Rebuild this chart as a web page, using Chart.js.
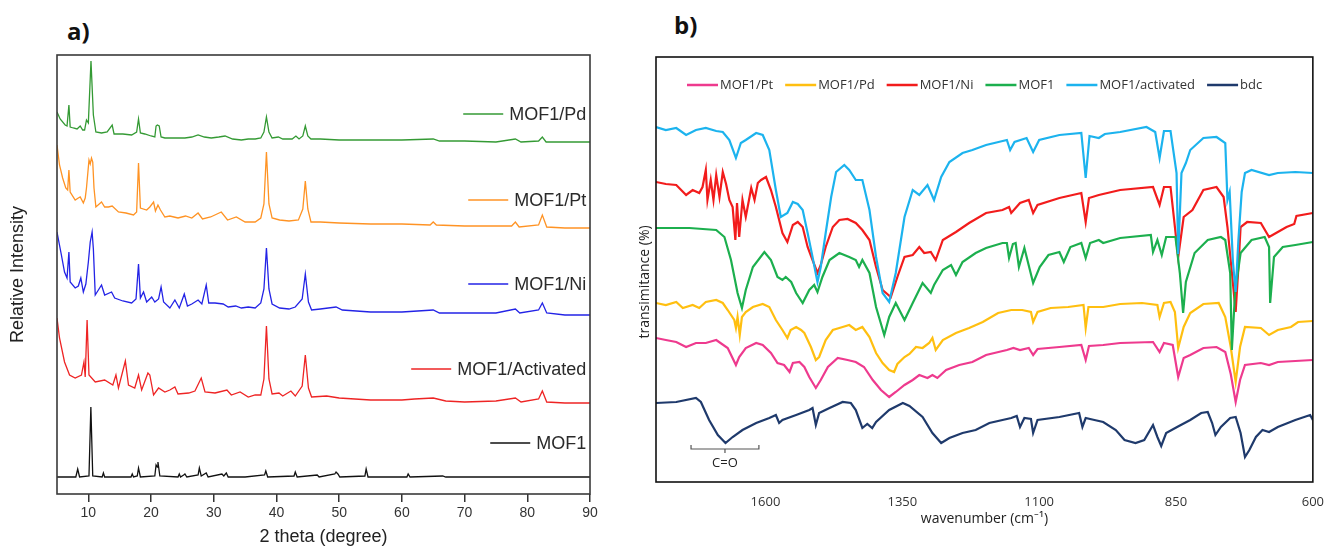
<!DOCTYPE html>
<html>
<head>
<meta charset="utf-8">
<script src="https://cdn.jsdelivr.net/npm/chart.js@4.4.1/dist/chart.umd.min.js"></script>
<style>
  body { margin: 0; background: #fff; width: 1325px; height: 548px; position: relative; overflow: hidden; }
  canvas { position: absolute; top: 0; }
  #xrd { left: 0; }
  #ftir { left: 620px; }
  .tag { position: absolute; font: bold 24px "Open Sans", sans-serif; line-height: 1; color: #111; }
</style>
</head>
<body>
<div class="tag" style="left:67px;top:19px">a)</div>
<div class="tag" style="left:674px;top:13px">b)</div>
<canvas id="xrd" width="640" height="548"></canvas>
<canvas id="ftir" width="708" height="548"></canvas>
<script>
// ---- a) XRD patterns: [2theta, intensity (offset, arbitrary)] ----
const xrdTicks = [10, 20, 30, 40, 50, 60, 70, 80, 90];
const xrdNames = ['MOF1/Pd', 'MOF1/Pt', 'MOF1/Ni', 'MOF1/Activated', 'MOF1'];
const xrdColors = ['#349a34', '#ff9324', '#2323e6', '#ee2424', '#111111'];

const xrdPd = [[5,382],[5.5,375],[6.3,369],[6.6,368],[6.9,389],[7.1,367],[7.6,366],[8.2,365],[8.7,368],[9.1,364],[9.4,364],[9.7,374],[10.0,371],[10.42,433],[10.8,379],[11.2,362],[12.1,361],[13.0,362],[13.8,369],[14.1,360],[15.5,360],[16.9,359],[17.7,362],[18.0,375],[18.3,361],[19.0,360],[20.0,358],[20.6,357],[20.8,368],[21.0,369],[21.3,368],[21.6,357],[22.2,356],[24,356],[25.4,356],[26.5,357],[27.5,359],[28.5,357],[29.6,356],[30.8,357],[31.8,358],[33,355],[34.4,354],[35.5,355],[36.6,355],[37.5,356],[38.0,362],[38.4,377],[38.8,362],[39.3,356],[40.3,357],[41,355],[42.5,355],[43.1,358],[43.6,355],[44.2,358],[44.6,368],[45.0,358],[45.5,355],[47,355],[50,354],[55,354],[60,354],[65,355],[66,353],[70,353],[75,352],[78.1,355],[79,352],[81.8,353],[82.4,357],[83.0,352],[86,352],[90,352]];
const xrdPt = [[5,349],[5.4,329],[5.9,316],[6.4,306],[6.7,304],[6.9,324],[7.1,302],[7.9,294],[8.4,296],[8.7,297],[9.2,291],[9.5,296],[9.7,306],[10.1,334],[10.3,330],[10.5,336],[10.7,332],[10.9,306],[11.2,287],[12.1,292],[12.6,287],[13.2,287],[13.8,288],[14.8,282],[16,281],[17.2,279],[17.7,282],[18.0,331],[18.3,286],[19.3,284],[19.8,287],[20.4,292],[20.7,283],[21.1,289],[21.5,284],[22.2,277],[23,278],[24.3,276],[25.5,278],[26.5,276],[27.5,281],[28.2,275],[29.5,277],[31.2,282],[32.2,274],[33.6,277],[35,272],[36.6,272],[37.5,276],[38.0,290],[38.4,342],[38.8,290],[39.3,276],[40.5,274],[42,273],[43.5,274],[44.2,285],[44.6,313],[45.0,285],[45.5,272],[47,272],[50,271],[55,270],[60,270],[64.5,269],[65,272],[65.5,269],[70,268],[75,268],[77.5,268],[78.1,272],[78.7,267],[81.8,269],[82.4,279],[83.1,267],[86,266],[90,266]];
const xrdNi = [[5,262],[5.7,239],[6.2,222],[6.6,216],[6.9,242],[7.1,212],[7.9,206],[8.4,208],[8.8,216],[9.2,202],[9.6,210],[10.0,232],[10.3,252],[10.6,262],[10.8,245],[11.1,199],[12.1,209],[12.6,199],[13.7,202],[14.2,196],[15.5,193],[16.9,191],[17.6,195],[18.0,230],[18.3,196],[18.8,202],[19.3,192],[20.1,197],[20.6,192],[21.2,195],[21.6,207],[22.0,192],[23.0,186],[23.8,194],[24.5,186],[25.3,200],[25.8,188],[26.5,190],[27.5,194],[28.1,190],[28.8,209],[29.2,191],[30.2,191],[31.5,190],[32.3,187],[33.5,188],[34.4,186],[35.5,187],[36.6,186],[37.5,191],[38.0,205],[38.4,246],[38.8,205],[39.3,190],[40.5,186],[42,185],[43,187],[44.1,195],[44.6,220],[45.1,192],[45.6,184],[47,185],[49.5,187],[50.5,184],[55,182],[60,182],[65,184],[66,181],[70,181],[75,181],[78.1,185],[78.8,181],[81.8,184],[82.4,191],[83.1,181],[86,179],[90,179]];
const xrdAct = [[5,176],[5.4,156],[6.2,132],[7.0,119],[7.9,116],[8.9,119],[9.3,132],[9.5,117],[9.8,174],[10.1,119],[11.1,112],[12.6,114],[13.9,109],[14.4,119],[14.8,106],[15.9,133],[16.4,109],[17.4,106],[18.0,119],[18.5,104],[19.5,121],[19.8,119],[20.4,99],[21.2,106],[22.2,102],[23.0,104],[23.8,107],[24.3,100],[26.0,101],[27.0,103],[28.0,116],[28.6,102],[30.2,101],[32.1,104],[32.8,99],[34.2,102],[35.5,97],[36.6,99],[37.5,99],[38.0,115],[38.4,168],[38.8,115],[39.3,100],[40.4,101],[41,98],[42.3,103],[43,98],[44.1,108],[44.6,139],[45.1,106],[45.6,97],[48,98],[50,96],[55,94],[60,94],[62,95],[65,96],[67,93],[70,92],[75,93],[78.1,96],[79,92],[81.8,95],[82.4,103],[83.1,92],[86,91],[90,91]];
const xrdMof = [[5,17],[8.0,17],[8.3,25],[8.6,17],[10.1,18],[10.4,87],[10.7,18],[12.2,17],[12.4,21],[12.6,17],[16.8,17],[17.0,20],[17.2,17],[17.8,18],[18.0,26],[18.3,17],[20.6,18],[20.8,29],[21.0,27],[21.1,32],[21.4,18],[24.3,17],[24.5,20],[24.7,17],[25.2,19],[25.4,20],[25.7,17],[27.5,19],[27.7,26],[28.0,18],[28.8,21],[29.1,17],[31.3,20],[31.6,18],[32.0,21],[32.3,17],[35,17],[38.1,19],[38.3,23],[38.6,17],[42.8,18],[43.0,22],[43.3,17],[46.5,19],[46.8,17],[49.3,20],[49.5,22],[49.8,20],[50.1,17],[54.1,18],[54.3,25],[54.6,17],[60.8,17],[61.0,20],[61.3,17],[66.5,18],[67,17],[90,17]];
const xrdSeries = [xrdPd, xrdPt, xrdNi, xrdAct, xrdMof];
// where each trace's name sits (intensity units), right edge at 2theta = 89.4
const xrdTagY = [380, 294, 210, 125, 51];

// ---- b) FTIR spectra: [wavenumber, transmittance (offset, arbitrary)] ----
const irTicks = [1600, 1350, 1100, 850, 600];
const irNames = ['MOF1/Pt', 'MOF1/Pd', 'MOF1/Ni', 'MOF1', 'MOF1/activated', 'bdc'];
const irColors = ['#ee3a8e', '#ffbf10', '#f21c1c', '#1caf4e', '#1cb3ee', '#1f3a6c'];

const irPt = [[1800,144],[1782,142],[1763,140],[1745,135],[1727,139],[1709,139],[1690,142],[1669,134],[1654,117],[1648,125],[1636,134],[1617,139],[1605,137],[1590,129],[1578,119],[1566,117],[1556,110],[1550,119],[1538,120],[1529,115],[1520,105],[1508,94],[1499,102],[1486,115],[1468,124],[1450,122],[1435,120],[1420,115],[1404,102],[1389,92],[1374,85],[1362,90],[1346,97],[1331,102],[1319,107],[1304,104],[1295,107],[1286,104],[1270,112],[1246,117],[1222,120],[1197,127],[1159,132],[1147,134],[1135,132],[1119,134],[1111,127],[1103,133],[1063,135],[1023,137],[1015,122],[1009,136],[983,137],[952,139],[892,140],[880,130],[872,139],[856,137],[846,105],[836,124],[824,127],[800,134],[776,135],[760,130],[750,108],[741,80],[733,102],[724,117],[695,119],[680,117],[664,120],[632,121],[600,122]];
const irPd = [[1800,179],[1782,177],[1763,180],[1751,174],[1733,177],[1721,174],[1709,180],[1690,182],[1678,179],[1669,172],[1657,162],[1654,154],[1651,165],[1647,147],[1643,165],[1636,170],[1623,175],[1605,178],[1593,175],[1581,162],[1569,152],[1560,144],[1554,152],[1544,155],[1535,152],[1529,149],[1517,135],[1508,122],[1502,125],[1490,142],[1477,152],[1459,155],[1447,157],[1435,152],[1423,155],[1410,145],[1398,129],[1386,119],[1374,112],[1365,110],[1359,118],[1346,125],[1337,128],[1325,135],[1313,134],[1301,139],[1295,144],[1289,132],[1276,142],[1252,149],[1228,154],[1203,160],[1175,169],[1151,172],[1131,172],[1115,170],[1111,160],[1103,170],[1079,174],[1047,175],[1019,177],[1015,154],[1010,175],[983,175],[952,178],[912,179],[884,177],[880,165],[872,179],[860,180],[852,170],[846,134],[836,155],[824,169],[800,178],[772,179],[760,165],[750,135],[741,100],[733,135],[724,155],[695,154],[680,147],[664,152],[640,155],[627,160],[600,161]];
const irNi = [[1800,300],[1782,298],[1763,297],[1745,287],[1733,292],[1721,289],[1715,295],[1709,312],[1706,282],[1700,302],[1695,282],[1690,307],[1684,285],[1678,310],[1672,298],[1666,282],[1660,275],[1655,242],[1652,279],[1648,245],[1642,282],[1636,265],[1626,294],[1620,282],[1614,299],[1608,302],[1599,305],[1590,292],[1581,275],[1569,249],[1560,240],[1550,257],[1541,260],[1532,255],[1523,235],[1514,222],[1505,209],[1499,217],[1490,235],[1477,255],[1465,262],[1450,263],[1435,259],[1423,252],[1410,242],[1398,215],[1386,192],[1371,185],[1359,205],[1346,225],[1331,227],[1319,235],[1310,229],[1298,230],[1289,222],[1276,242],[1252,250],[1228,259],[1197,269],[1167,272],[1155,275],[1151,269],[1135,279],[1119,282],[1111,269],[1103,277],[1063,284],[1023,289],[1015,260],[1009,284],[991,287],[952,292],[892,295],[880,277],[872,295],[860,295],[846,225],[836,265],[820,272],[800,292],[776,295],[763,285],[756,255],[748,210],[741,170],[736,215],[732,255],[720,260],[695,259],[680,245],[664,250],[648,255],[634,258],[630,266],[600,269]];
const irMof = [[1800,254],[1739,254],[1690,252],[1675,245],[1663,222],[1651,189],[1643,174],[1636,192],[1623,215],[1602,230],[1590,222],[1578,205],[1569,202],[1563,205],[1553,200],[1544,189],[1532,179],[1520,192],[1511,197],[1505,190],[1496,205],[1483,222],[1465,229],[1447,225],[1435,222],[1429,215],[1423,222],[1410,209],[1398,175],[1383,147],[1374,165],[1362,179],[1346,162],[1331,179],[1313,199],[1298,189],[1292,197],[1276,212],[1261,217],[1252,207],[1240,220],[1216,229],[1197,234],[1167,239],[1159,239],[1155,224],[1148,238],[1143,239],[1137,215],[1127,234],[1111,199],[1099,215],[1083,227],[1063,230],[1055,220],[1043,235],[1023,239],[1015,224],[1007,239],[991,242],[983,239],[952,244],[896,247],[892,230],[884,242],[876,227],[868,245],[851,245],[843,209],[837,169],[832,200],[816,229],[792,242],[768,245],[760,242],[751,209],[748,132],[742,190],[732,229],[712,242],[688,245],[680,235],[678,179],[671,225],[655,235],[632,237],[600,240]];
const irAct = [[1800,355],[1782,352],[1763,354],[1745,347],[1727,352],[1709,354],[1690,351],[1678,350],[1666,342],[1654,324],[1645,339],[1636,342],[1617,349],[1605,347],[1593,332],[1581,292],[1572,265],[1560,269],[1550,280],[1541,278],[1532,272],[1523,249],[1514,225],[1505,200],[1499,215],[1490,249],[1480,285],[1471,310],[1456,317],[1447,312],[1435,302],[1423,302],[1410,272],[1398,225],[1386,189],[1374,180],[1362,209],[1346,265],[1331,292],[1319,287],[1304,297],[1292,282],[1279,305],[1264,320],[1240,329],[1222,332],[1197,337],[1159,342],[1153,332],[1145,340],[1123,344],[1111,330],[1100,342],[1063,347],[1023,349],[1015,304],[1008,346],[991,344],[980,348],[952,350],[904,355],[888,350],[880,324],[872,351],[860,351],[849,309],[846,228],[840,309],[832,319],[824,332],[800,344],[776,345],[760,339],[756,282],[752,290],[746,220],[741,190],[736,242],[730,290],[724,309],[712,312],[680,307],[664,309],[632,310],[600,309]];
const irBdc = [[1800,79],[1763,80],[1727,84],[1718,80],[1703,62],[1687,47],[1673,39],[1660,45],[1642,52],[1617,59],[1593,64],[1581,67],[1575,59],[1569,62],[1544,67],[1520,72],[1514,74],[1508,57],[1502,69],[1483,74],[1459,80],[1444,79],[1435,72],[1423,54],[1414,58],[1405,54],[1398,60],[1374,72],[1349,79],[1337,76],[1313,65],[1295,49],[1279,39],[1264,44],[1240,49],[1216,52],[1191,59],[1151,64],[1141,66],[1135,55],[1127,64],[1115,63],[1111,49],[1103,62],[1063,65],[1027,69],[1021,55],[1015,64],[999,62],[983,60],[960,52],[944,42],[924,39],[908,42],[892,57],[884,45],[877,36],[868,49],[848,55],[824,62],[804,69],[792,70],[784,59],[778,47],[768,55],[751,64],[741,65],[732,49],[724,25],[716,32],[704,45],[692,52],[680,50],[664,55],[632,62],[605,67],[600,62]];
const irSeries = [irPt, irPd, irNi, irMof, irAct, irBdc];
// C=O band bracket: wavenumber span
const coSpan = [1736, 1612];

const toPoints = arr => arr.map(([x, y]) => ({ x, y }));

// plain box round the plot area
const frame = {
  id: 'frame',
  afterDatasetsDraw(chart, args, opts) {
    const { ctx, chartArea: a } = chart;
    ctx.save();
    ctx.strokeStyle = opts.color;
    ctx.lineWidth = opts.width;
    ctx.strokeRect(a.left, a.top, a.right - a.left, a.bottom - a.top);
    ctx.restore();
  }
};

// names written next to each XRD trace
const xrdTags = {
  id: 'xrdTags',
  afterDatasetsDraw(chart) {
    const { ctx, scales: { x, y } } = chart;
    const right = x.getPixelForValue(89.4);
    ctx.save();
    ctx.font = '18px "Liberation Sans", Arial, sans-serif';
    ctx.textBaseline = 'middle';
    ctx.textAlign = 'right';
    chart.data.datasets.forEach((ds, i) => {
      const py = y.getPixelForValue(xrdTagY[i]);
      const w = ctx.measureText(ds.label).width;
      ctx.fillStyle = '#2a2a2a';
      ctx.fillText(ds.label, right, py + 1);
      ctx.strokeStyle = ds.borderColor;
      ctx.lineWidth = 1.3;
      ctx.beginPath();
      ctx.moveTo(right - w - 46, py);
      ctx.lineTo(right - w - 6, py);
      ctx.stroke();
    });
    ctx.restore();
  }
};

// legend row inside the FTIR box, C=O bracket and the y title
const irLegend = {
  id: 'irLegend',
  afterDatasetsDraw(chart) {
    const { ctx, chartArea: a, scales: { x, y } } = chart;
    ctx.save();
    ctx.font = '13px "Open Sans", sans-serif';
    ctx.textBaseline = 'middle';
    let px = a.left + 31;
    const py = a.top + 28;
    irNames.forEach((name, i) => {
      ctx.strokeStyle = irColors[i];
      ctx.lineWidth = 2.5;
      ctx.beginPath();
      ctx.moveTo(px, py);
      ctx.lineTo(px + 31, py);
      ctx.stroke();
      ctx.fillStyle = '#333';
      ctx.fillText(name, px + 33, py);
      px += 33 + ctx.measureText(name).width + 12;
    });

    const x1 = x.getPixelForValue(coSpan[0]);
    const x2 = x.getPixelForValue(coSpan[1]);
    const xm = (x1 + x2) / 2;
    const by = y.getPixelForValue(33);
    ctx.strokeStyle = '#555';
    ctx.lineWidth = 1.2;
    ctx.beginPath();
    ctx.moveTo(x1, by - 4); ctx.lineTo(x1, by); ctx.lineTo(x2, by); ctx.lineTo(x2, by - 4);
    ctx.moveTo(xm, by); ctx.lineTo(xm, by + 4);
    ctx.stroke();
    ctx.fillStyle = '#222';
    ctx.textAlign = 'center';
    ctx.fillText('C=O', xm, by + 14);

    // axis title sits a little below the middle in the original
    ctx.translate(25, 282);
    ctx.rotate(-Math.PI / 2);
    ctx.font = '14px "Open Sans", sans-serif';
    ctx.fillText('transimitance (%)', 0, 0);
    ctx.restore();
  }
};

new Chart(document.getElementById('xrd'), {
  type: 'line',
  data: {
    datasets: xrdSeries.map((s, i) => ({
      label: xrdNames[i],
      data: toPoints(s),
      borderColor: xrdColors[i],
      borderWidth: 1.3,
      pointRadius: 0,
      tension: 0,
      fill: false
    }))
  },
  options: {
    responsive: false,
    animation: false,
    layout: { padding: { left: 0, right: 50, top: 55, bottom: 0 } },
    plugins: {
      legend: { display: false },
      tooltip: { enabled: false },
      frame: { color: '#3a3a3a', width: 1.6 }
    },
    scales: {
      x: {
        type: 'linear', min: 5, max: 90,
        afterBuildTicks: s => { s.ticks = xrdTicks.map(v => ({ value: v })); },
        afterFit: s => { s.height = 54; },
        border: { display: false },
        grid: { drawOnChartArea: false, drawTicks: true, tickLength: 8, color: '#333', lineWidth: 1.5 },
        ticks: { color: '#333', padding: 3, font: { family: '"Liberation Sans", Arial', size: 14 } },
        title: { display: true, text: '2 theta (degree)', color: '#222', padding: { top: 0, bottom: 0 },
                 font: { family: '"Liberation Sans", Arial', size: 18 } }
      },
      y: {
        min: 0, max: 439,
        afterFit: s => { s.width = 57; },
        border: { display: false },
        grid: { display: false },
        ticks: { display: false },
        title: { display: true, text: 'Relative Intensity', color: '#222', padding: { top: 7, bottom: 0 },
                 font: { family: '"Liberation Sans", Arial', size: 18 } }
      }
    }
  },
  plugins: [frame, xrdTags]
});

new Chart(document.getElementById('ftir'), {
  type: 'line',
  data: {
    datasets: irSeries.map((s, i) => ({
      label: irNames[i],
      data: toPoints(s),
      borderColor: irColors[i],
      borderWidth: 2.2,
      pointRadius: 0,
      tension: 0,
      fill: false,
      order: irSeries.length - i
    }))
  },
  options: {
    responsive: false,
    animation: false,
    layout: { padding: { left: 0, right: 4, top: 57, bottom: 0 } },
    plugins: {
      legend: { display: false },
      tooltip: { enabled: false },
      frame: { color: '#111', width: 1.6 }
    },
    scales: {
      x: {
        type: 'linear', min: 600, max: 1800, reverse: true,
        afterBuildTicks: s => { s.ticks = irTicks.map(v => ({ value: v })); },
        afterFit: s => { s.height = 66; },
        border: { display: false },
        grid: { display: false },
        ticks: { color: '#333', padding: 4, callback: v => String(v),
                 font: { family: '"Open Sans"', size: 13 } },
        title: { display: true, text: 'wavenumber (cm\u207B\u00B9)', color: '#222', padding: { top: 0, bottom: 21 },
                 font: { family: '"Open Sans"', size: 14 } }
      },
      y: {
        min: 0, max: 425,
        afterFit: s => { s.width = 36; },
        border: { display: false },
        grid: { display: false },
        ticks: { display: false },
        title: { display: false }
      }
    }
  },
  plugins: [frame, irLegend]
});
</script>
</body>
</html>
